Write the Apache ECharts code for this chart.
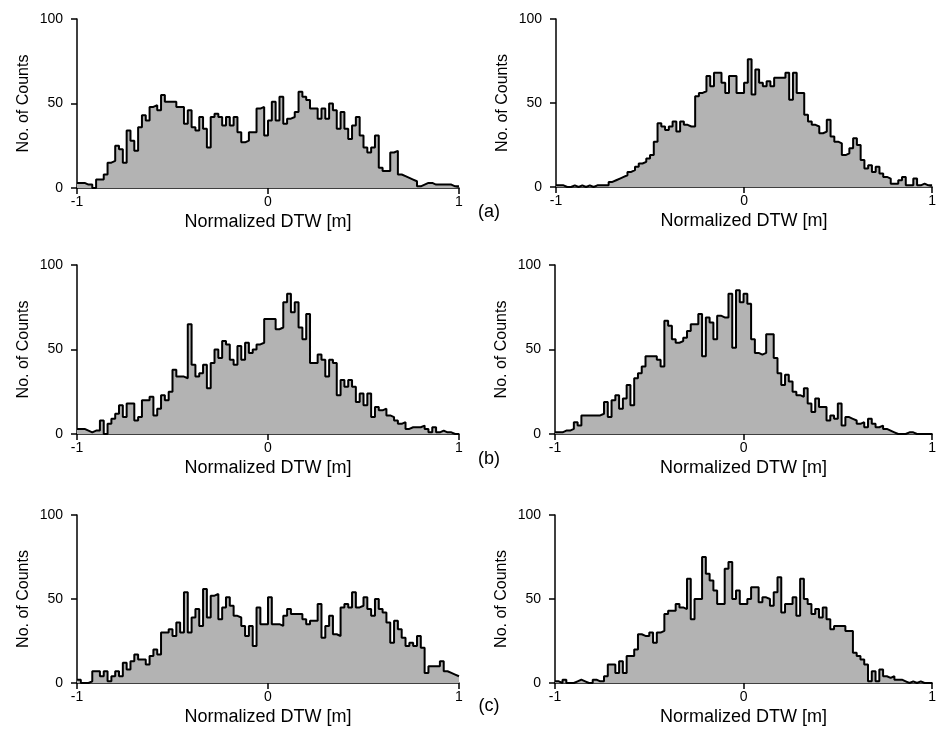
<!DOCTYPE html>
<html><head><meta charset="utf-8">
<script src="https://cdn.jsdelivr.net/npm/echarts@6/dist/echarts.min.js"></script>
<style>html,body{margin:0;padding:0;background:#fff}#c{width:939px;height:752px}</style>
</head><body><div id="c"></div>
<script>
// histogram bins: 100 bins of width 0.02 from -1 to 1
const binStart = -1;
const binWidth = 0.02;
const xTickLabels = ['-1', '0', '1'];
const yTickLabels = ['0', '50', '100'];
const xName = 'Normalized DTW [m]';
const yName = 'No. of Counts';
const panelLabels = ['(a)', '(b)', '(c)'];

const countsA_left = [3,3,2,2,0,5,5,8,15,16, 25,23,15,34,28,22,36,43,40,48, 49,46,55,51,51,51,48,48,38,46, 36,34,42,35,24,42,44,42,37,42, 37,42,33,27,28,33,33,47,48,31, 40,51,40,54,38,41,42,45,57,54, 52,47,47,41,47,41,50,46,35,45, 35,29,37,42,31,24,21,24,31,12, 10,10,21,22,8,7,6,5,4,1, 2,3,3,2,2,2,2,2,1,1];
const countsA_right = [1,1,0,0,1,0,1,0,1,0, 1,1,1,1,3,4,5,6,7,9, 10,12,14,15,17,19,27,38,36,34, 36,39,33,39,37,36,36,54,56,57, 66,60,68,68,62,56,66,66,56,56, 62,76,55,70,62,60,63,60,65,65, 65,68,52,68,56,56,43,39,37,36, 32,33,40,30,27,26,19,20,23,29, 25,16,11,13,9,12,8,6,5,2, 2,4,6,1,1,5,1,2,1,1];
const countsB_left = [3,3,2,1,2,2,8,0,6,9, 12,17,10,18,18,8,10,20,20,22, 11,15,23,20,25,38,34,34,33,65, 41,34,36,41,27,42,50,45,55,53, 44,41,52,44,54,48,50,53,54,68, 68,68,62,63,78,83,72,78,63,56, 71,42,42,47,44,34,44,42,23,32, 28,32,28,19,24,17,24,10,16,14, 15,11,10,8,6,7,3,4,4,4, 5,3,1,4,1,2,1,1,0,0];
const countsB_right = [1,1,2,2,3,7,5,11,11,11, 11,11,12,19,10,20,23,15,21,29, 17,33,36,40,46,46,46,44,40,67, 64,56,54,55,57,61,65,65,71,46, 69,66,56,70,69,69,83,51,85,78, 83,77,56,48,47,48,59,59,45,36, 29,35,31,25,23,22,27,18,13,21, 16,16,8,11,9,18,5,10,9,8, 6,7,4,9,6,4,5,3,2,1, 0,0,0,1,1,0,0,0,0,0];
const countsC_left = [2,0,0,1,7,7,4,7,1,4, 7,4,12,8,13,17,14,14,11,16, 20,17,30,30,32,28,36,30,54,30, 39,44,34,56,39,52,53,38,45,51, 46,40,39,34,28,34,22,45,35,35, 51,35,35,34,40,44,41,41,41,38, 35,37,37,47,27,34,40,29,28,45, 47,45,54,45,46,51,44,40,50,44, 42,36,24,37,32,27,22,24,22,28, 21,6,10,10,10,13,7,6,5,4];
const countsC_right = [1,0,2,0,0,1,2,1,0,0, 2,1,1,4,11,11,6,13,6,16, 16,20,29,28,28,30,24,30,31,41, 43,43,47,45,44,62,38,50,50,75, 65,61,55,47,47,68,72,50,55,47, 47,50,57,57,48,51,50,46,54,63, 42,47,47,51,40,62,50,47,41,44, 39,45,38,32,34,34,34,31,31,18, 16,14,11,1,7,1,8,4,3,4, 2,2,1,0,1,0,1,0,0,0];

const panels = [countsA_left, countsA_right, countsB_left, countsB_right, countsC_left, countsC_right];

// layout (px)
const gridBoxes = [
  {left: 77, top: 19, width: 382, height: 169},
  {left: 556, top: 19, width: 381, height: 168},
  {left: 77, top: 265, width: 382, height: 169},
  {left: 555, top: 265, width: 382, height: 169},
  {left: 77, top: 515, width: 382, height: 168},
  {left: 555, top: 515, width: 382, height: 168}
];
const labelPos = [{x: 489, y: 212}, {x: 489, y: 459}, {x: 489, y: 706}];

const FONT = 'Liberation Sans, Arial, sans-serif';

function stairs(vals) {
  const d = vals.map((v, i) => [binStart + i * binWidth, v]);
  d.push([binStart + vals.length * binWidth, vals[vals.length - 1]]);
  return d;
}

const axisLineStyle = {color: '#000', width: 1.5};
const option = {
  animation: false,
  backgroundColor: '#fff',
  grid: gridBoxes.map(g => Object.assign({containLabel: false}, g)),
  xAxis: gridBoxes.map((g, i) => ({
    type: 'value', gridIndex: i, min: -1, max: 1, interval: 1,
    name: xName, nameLocation: 'middle', nameGap: 25,
    nameTextStyle: {fontFamily: FONT, fontSize: 18, color: '#000'},
    axisLine: {show: true, onZero: false, lineStyle: axisLineStyle},
    axisTick: {show: true, length: 6, lineStyle: axisLineStyle},
    axisLabel: {fontFamily: FONT, fontSize: 14, color: '#000', margin: 7,
      formatter: v => xTickLabels[Math.round(v) + 1]},
    splitLine: {show: false}
  })),
  yAxis: gridBoxes.map((g, i) => ({
    type: 'value', gridIndex: i, min: 0, max: 100, interval: 50,
    name: yName, nameLocation: 'middle', nameGap: 45, nameRotate: 90,
    nameTextStyle: {fontFamily: FONT, fontSize: 16, color: '#000'},
    axisLine: {show: true, onZero: false, lineStyle: axisLineStyle},
    axisTick: {show: true, length: 6, lineStyle: axisLineStyle},
    axisLabel: {fontFamily: FONT, fontSize: 14, color: '#000', margin: 14,
      formatter: v => yTickLabels[Math.round(v / 50)]},
    splitLine: {show: false}
  })),
  series: panels.map((vals, i) => ({
    type: 'line', xAxisIndex: i, yAxisIndex: i,
    step: 'end', data: stairs(vals), showSymbol: false, symbol: 'none',
    lineStyle: {color: '#000', width: 2},
    areaStyle: {color: '#b3b3b3', opacity: 1, origin: 'start'},
    z: 1
  })),
  graphic: labelPos.map((p, i) => ({
    type: 'text', x: p.x, y: p.y,
    style: {text: panelLabels[i], font: '18px ' + FONT, fill: '#000', align: 'center', verticalAlign: 'middle'}
  }))
};
const chart = echarts.init(document.getElementById('c'), null, {renderer: 'canvas'});
chart.setOption(option);
</script></body></html>
